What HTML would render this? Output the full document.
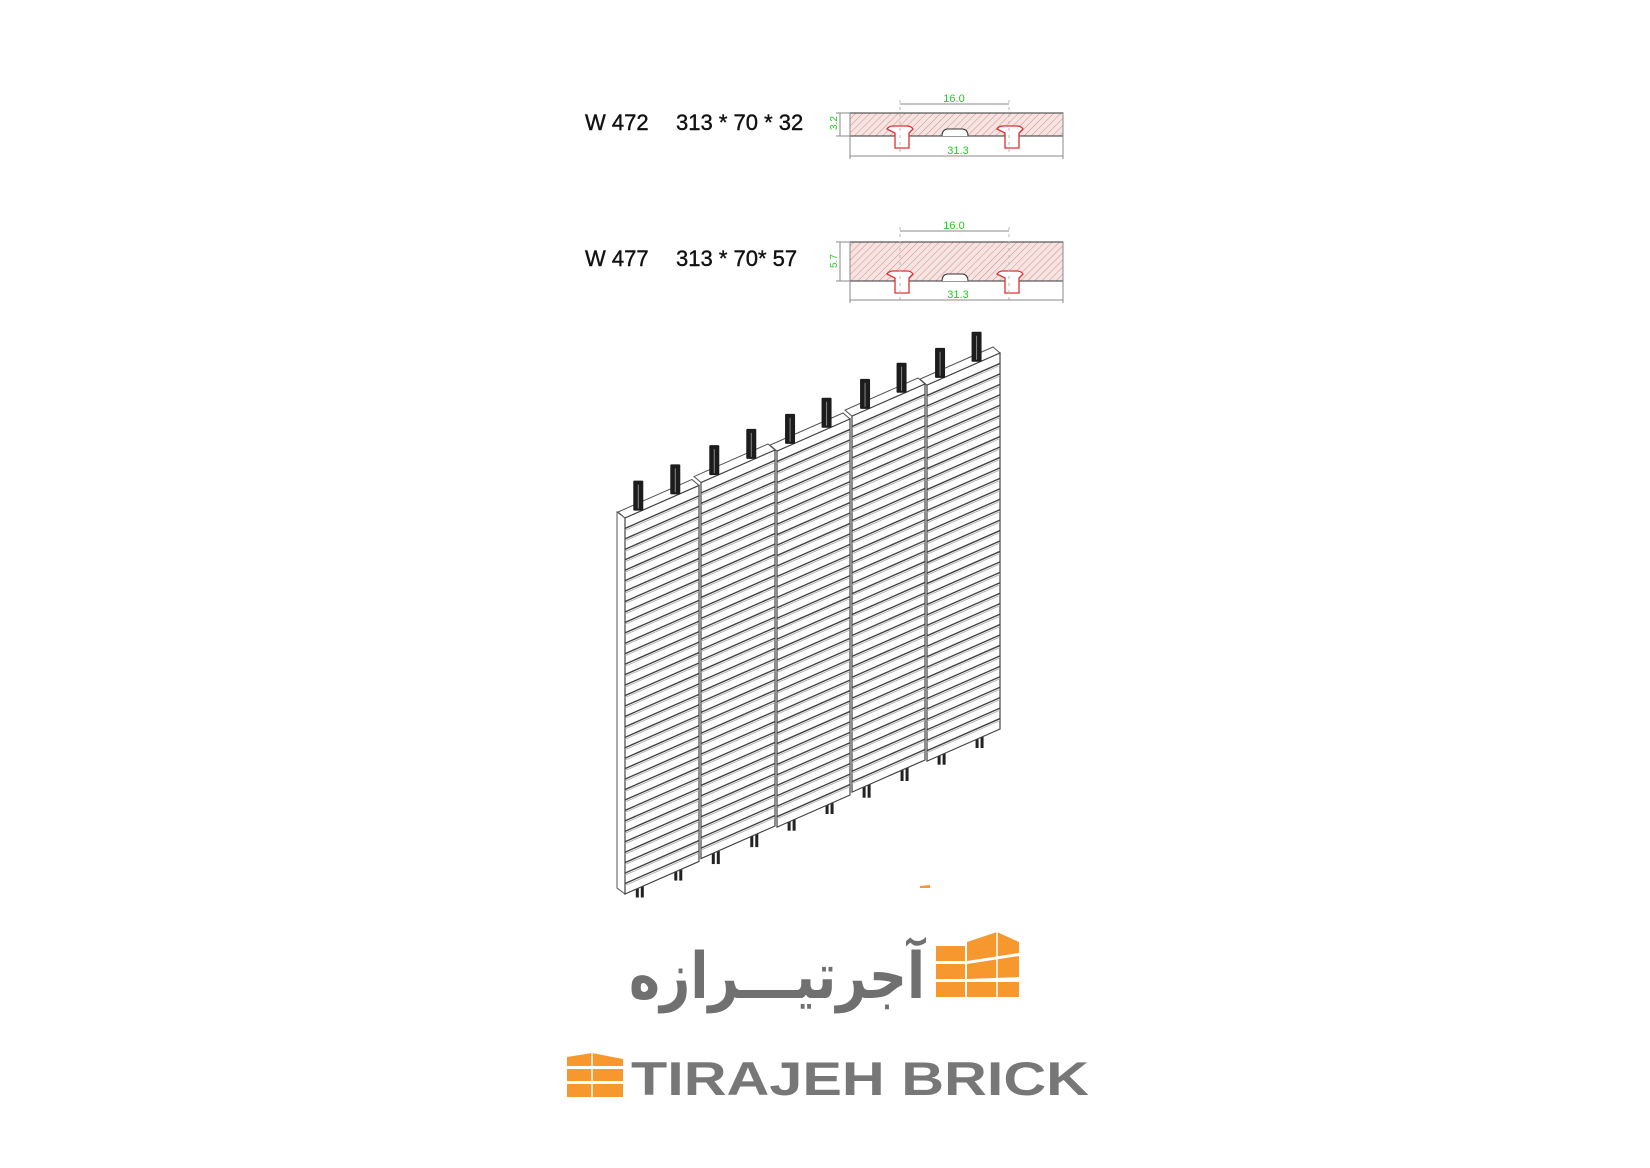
<!DOCTYPE html>
<html><head><meta charset="utf-8"><style>
html,body{margin:0;padding:0;background:#fff;}
svg{display:block;}
</style></head><body>
<svg id="s" width="1650" height="1168" viewBox="0 0 1650 1168" xmlns="http://www.w3.org/2000/svg">
<defs>
<pattern id="h" width="5" height="5" patternUnits="userSpaceOnUse" patternTransform="rotate(45)">
<rect width="5" height="5" fill="#f6e4e2"/><line x1="0" y1="0" x2="0" y2="5" stroke="#d88a84" stroke-width="1"/>
</pattern>
</defs>
<g font-family="Liberation Sans, Arial, sans-serif" fill="#111" font-size="22" stroke="#111" stroke-width="0.4">
<text x="585" y="130">W 472</text>
<text x="676" y="130">313 * 70 * 32</text>
<text x="585" y="266">W 477</text>
<text x="676" y="266">313 * 70* 57</text>
</g>
<g id="p1"></g>
<g id="wall"></g>
<g transform="translate(-4,-5)">
<text x="633" y="1003" font-family="DejaVu Sans, sans-serif" font-weight="bold" font-size="64" fill="#707070" textLength="296" lengthAdjust="spacingAndGlyphs">آجرتیـــرازه</text>
<g fill="#f7982f">
<polygon points="971,947 1001,937 1023,947 1023,958 971,966"/>
<polygon points="971,969 1023,961 1023,982 971,984"/>
<rect x="971" y="987" width="52" height="15"/>
<rect x="940" y="951" width="29" height="15"/>
<rect x="940" y="969" width="29" height="15"/>
<rect x="940" y="987" width="29" height="15"/>
<polygon points="571,1062 596,1058 627,1064 627,1071 571,1071"/>
<rect x="571" y="1074" width="56" height="12"/>
<rect x="571" y="1089" width="56" height="13"/>
</g>
<g stroke="#fff" stroke-width="1.5"><line x1="596" y1="1058" x2="596" y2="1102"/><line x1="1001" y1="937" x2="1001" y2="1002"/></g>
<text x="635" y="1100" font-family="Liberation Sans, Arial, sans-serif" font-weight="bold" font-size="47" fill="#777" textLength="458" lengthAdjust="spacingAndGlyphs">TIRAJEH BRICK</text>
</g>
<polygon points="920,886 930,885 930,888 920,888" fill="#f7982f"/>
</svg>
<script>
var NS="http://www.w3.org/2000/svg";
function el(p,t,a){var e=document.createElementNS(NS,t);for(var k in a)e.setAttribute(k,a[k]);p.appendChild(e);return e;}
var p1=document.getElementById('p1');
function profile(top,bot,d16,d31){
 el(p1,'rect',{x:850,y:top,width:213,height:bot-top,fill:'url(#h)',stroke:'#333','stroke-width':1});
 el(p1,'path',{d:'M942 '+bot+' q0 -6 5 -7 h16 q5 1 5 7',fill:'#fff',stroke:'#333','stroke-width':1});
 [887,997].forEach(function(x){
  el(p1,'path',{d:'M'+x+' '+(bot-7)+' q2 -3 6 -3 h14 q4 0 6 3 l-4 4 v15 h-14 v-15 z',fill:'#fff',stroke:'#e03030','stroke-width':1.3});
 });
 var g='#888';
 el(p1,'line',{x1:900,y1:d16,x2:1009,y2:d16,stroke:g});
 el(p1,'line',{x1:900,y1:d16-4,x2:900,y2:d31,stroke:'#bbb','stroke-dasharray':'3 4'});
 el(p1,'line',{x1:1009,y1:d16-4,x2:1009,y2:d31,stroke:'#bbb','stroke-dasharray':'3 4'});
 el(p1,'line',{x1:850,y1:d31,x2:1063,y2:d31,stroke:g});
 el(p1,'line',{x1:850,y1:top,x2:850,y2:d31+3,stroke:g});
 el(p1,'line',{x1:1063,y1:top,x2:1063,y2:d31+3,stroke:g});
 el(p1,'line',{x1:840,y1:top,x2:840,y2:bot,stroke:g});
 el(p1,'line',{x1:836,y1:top,x2:850,y2:top,stroke:g});
 el(p1,'line',{x1:836,y1:bot,x2:850,y2:bot,stroke:g});
 var t=el(p1,'text',{x:954,y:d16-2,'font-size':11,fill:'#22cc22','text-anchor':'middle','font-family':'Liberation Sans Narrow, Liberation Sans, sans-serif'});t.textContent='16.0';
 t=el(p1,'text',{x:958,y:d31-2,'font-size':11,fill:'#22cc22','text-anchor':'middle','font-family':'Liberation Sans, sans-serif'});t.textContent='31.3';
}
profile(113,136,104,156);
profile(242,281,231,300);
var t=el(p1,'text',{x:0,y:0,'font-size':10,fill:'#22cc22','font-family':'Liberation Sans, sans-serif',transform:'translate(837,130) rotate(-90)'});t.textContent='3.2';
t=el(p1,'text',{x:0,y:0,'font-size':10,fill:'#22cc22','font-family':'Liberation Sans, sans-serif',transform:'translate(837,268) rotate(-90)'});t.textContent='5.7';

var w=document.getElementById('wall');
var xs=[625,701,777,852,927,1002];
var s=-0.44, y0=518, H=376, N=36;
function ty(x){return y0+s*(x-625);}
el(w,'polygon',{points:'617,'+(ty(625)-6)+' 625,'+ty(625)+' 625,'+(ty(625)+H)+' 617,'+(ty(625)+H-6),fill:'#fff',stroke:'#555','stroke-width':1});
for(var i=0;i<5;i++){
 var a=xs[i],b=xs[i+1]-2;
 var ta=ty(a)+(i%2?-2:0), tb=ty(b)+(i%2?-2:0);
 [0.2,0.72].forEach(function(f){var x=a+(b-a)*f;var yb=ty(x)+H;
  el(w,'rect',{x:x-4,y:yb-8,width:3,height:18,fill:'#222'});el(w,'rect',{x:x+1,y:yb-8,width:3,height:18,fill:'#222'});});
 el(w,'polygon',{points:(a-7)+','+(ta-6)+' '+(b-7)+','+(tb-6)+' '+b+','+tb+' '+a+','+ta,fill:'#fff',stroke:'#555','stroke-width':1});
 el(w,'polygon',{points:a+','+ta+' '+b+','+tb+' '+b+','+(tb+H)+' '+a+','+(ta+H),fill:'#fff',stroke:'#444','stroke-width':1.2});
 for(var k=1;k<N;k++){var d=k*H/N;
  el(w,'line',{x1:a,y1:ta+d,x2:b,y2:tb+d,stroke:'#444','stroke-width':1.4});
  el(w,'line',{x1:a,y1:ta+d+2,x2:b,y2:tb+d+2,stroke:'#aaa','stroke-width':0.8});
 }
 [0.22,0.72].forEach(function(f){var x=a+(b-a)*f-4;var yt=ty(x)+(i%2?-2:0);
  el(w,'rect',{x:x-4,y:yt-32,width:10,height:30,fill:'#1c1c1c',rx:1});
  el(w,'line',{x1:x+1,y1:yt-28,x2:x+1,y2:yt-4,stroke:'#888','stroke-width':1});});
}
</script>
</body></html>
